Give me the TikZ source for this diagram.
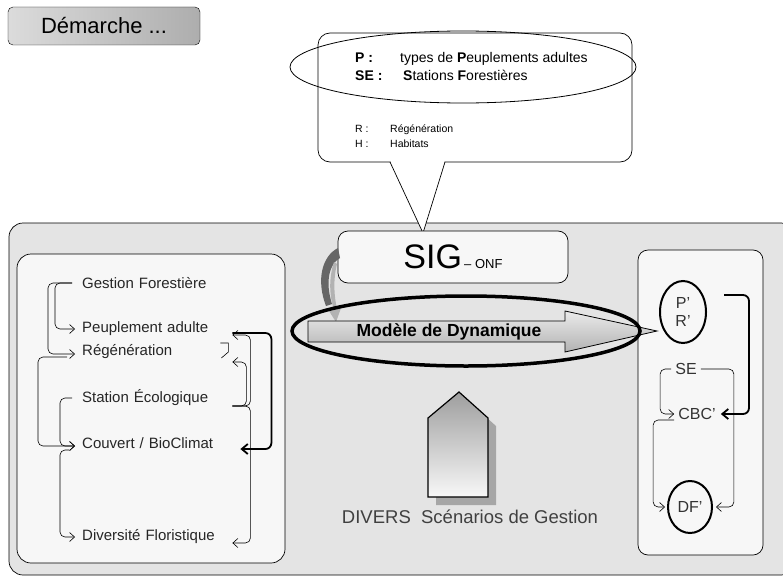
\documentclass[tikz,border=0pt]{standalone}
\usepackage{fontspec}
\setmainfont{Liberation Sans}
\usepackage{tikz}
\usetikzlibrary{arrows.meta, shapes.geometric}

\newcommand{\fsz}[1]{\fontsize{#1}{#1}\selectfont}
\definecolor{fondgris}{HTML}{E4E4E4}
\definecolor{fondclair}{HTML}{F7F7F7}

\begin{document}
\begin{tikzpicture}[x=1pt, y=-1pt,
    lbl/.style={anchor=west, inner sep=0pt, text width=150pt, align=left, font=\fsz{15}, text=black!85},
    lien/.style={line width=0.6pt, rounded corners=5pt, -{Straight Barb[length=5pt,width=9pt]}},
    lienfort/.style={line width=1.8pt, rounded corners=6pt, -{Straight Barb[length=6pt,width=10pt]}},
    anneau/.style={draw, ellipse, line width=2pt, inner sep=0pt, fill=fondclair},
    rtxt/.style={inner sep=0pt, font=\fsz{16}, text=black!80},
    bulle/.style={inner sep=0pt, anchor=base west}]

\useasboundingbox (0,0) rectangle (783,578);

% bouton
\node[draw, rounded corners=5pt, left color=black!14, right color=black!32, minimum width=192pt,
      minimum height=38pt, font=\fsz{22}] (dem) at (104,26) {Démarche ...};

% grands cadres
\draw[fill=fondgris, rounded corners=14pt, line width=0.7pt] (9,223) rectangle (795,575);
\draw[fill=fondclair, rounded corners=14pt, line width=0.7pt] (17,254) rectangle (285,563);
\draw[fill=fondclair, rounded corners=10pt, line width=0.7pt] (638,250) rectangle (763,555);

% bulle
\draw[fill=white, rounded corners=12pt, line width=0.7pt] (318,33) rectangle (632,162);
\fill[white] (390,160) -- (423,233) -- (445,160) -- cycle;
\draw[line width=0.7pt] (390,162) -- (423,233) -- (445,162);
\node[draw, ellipse, line width=0.8pt, minimum width=346pt, minimum height=72pt] (cell) at (463,67) {};

\node[bulle, font=\fsz{14}\bfseries] (lp) at (355,63) {P :};
\node[bulle, font=\fsz{14}] (tp) at (400,63) {types de \textbf{P}euplements adultes};
\node[bulle, font=\fsz{14}\bfseries] (lse) at (355,80) {SE :};
\node[bulle, font=\fsz{14}] (tse) at (403,80) {\textbf{S}tations \textbf{F}orestières};
\node[bulle, font=\fsz{10.5}] (lr) at (355,132) {R :};
\node[bulle, font=\fsz{10.5}] (tr) at (390,132) {Régénération};
\node[bulle, font=\fsz{10.5}] (lh) at (355,147) {H :};
\node[bulle, font=\fsz{10.5}] (th) at (390,147) {Habitats};

% SIG
\node[draw, fill=fondclair, rounded corners=10pt, line width=0.7pt, minimum width=230pt,
      minimum height=52pt] (sig) at (453,257) {\fsz{34}SIG{\fsz{13}\,– ONF}};

\fill[black!60] (338,248) .. controls (322,256) and (316,280) .. (326,306) -- (332,304)
      .. controls (325,282) and (329,264) .. (340,258) -- cycle;
\fill[black!30] (334,262) .. controls (328,280) and (330,298) .. (334,310) -- (329,311) -- (336,322)
      -- (341,308) -- (337,309) .. controls (334,296) and (333,280) .. (337,264) -- cycle;

% modele
\draw[line width=0.8pt, top color=black!8, bottom color=black!30] (308,321) -- (565,321) -- (565,311)
      -- (657,331) -- (565,352) -- (565,342) -- (308,342) -- cycle;
\node[draw, ellipse, line width=3.5pt, minimum width=348pt, minimum height=70pt] (mell) at (466,331) {};
\node[font=\fsz{17.5}\bfseries] (mdd) at (449,332) {Modèle de Dynamique};

% scenarios
\fill[black!35] (436,426) -- (467,400) -- (496,426) -- (496,505) -- (436,505) -- cycle;
\draw[line width=1.2pt, top color=black!38, bottom color=black!3] (428,418) -- (459,392) -- (488,418)
      -- (488,497) -- (428,497) -- cycle;
\node[font=\fsz{18.5}, text=black!75] (div) at (470,517) {DIVERS\ \ Scénarios de Gestion};

% panneau gauche
\node[lbl] (gf) at (82,283) {Gestion Forestière};
\node[lbl] (pa) at (82,329) {Peuplement adulte};
\node[lbl] (rg) at (82,352) {Régénération};
\node[lbl] (st) at (82,398) {Station Écologique};
\node[lbl] (cb) at (82,443) {Couvert / BioClimat};
\node[lbl] (df) at (82,537) {Diversité Floristique};

\draw[lien] ([xshift=-10pt]gf.west) -- ++(-17,0) |- ([xshift=-7pt]pa.west);
\draw[lien] ([xshift=-10pt]gf.west) -- ++(-24,0) |- ([xshift=-7pt,yshift=-2pt]rg.west);
\draw[lien] ([xshift=-15pt,yshift=-5pt]rg.west) -- ++(-29,0) |- ([xshift=-7pt,yshift=-3pt]cb.west);
\draw[lien] ([xshift=-10pt]st.west) -- ++(-12,0) |- ([xshift=-7pt,yshift=-3pt]cb.west);
\draw[lien] ([xshift=-13pt,yshift=-7pt]cb.west) -- ++(-9,0) |- ([xshift=-7pt]df.west);

\draw[lienfort] ([yshift=-4pt]pa.east) -- ++(39,0) |- ([xshift=8pt,yshift=-6pt]cb.east);
\draw[lien] ([yshift=-8pt]st.east) -- ++(18,0) |- ([yshift=-6pt]pa.east);
\draw[lien] ([yshift=-8pt]st.east) -- ++(14,0) |- ([yshift=-10pt]rg.east);
\draw[lien] ([yshift=-8pt]st.east) -- ++(18,0) |- ([yshift=-6pt]df.east);
\draw[line width=0.6pt] ([xshift=-12pt,yshift=-14pt]pa.east) -- ++(8,0) -- ++(0,9) -- ++(-7,6);

% panneau droit
\node[anneau, minimum width=46pt, minimum height=62pt, align=center, font=\fsz{16}, text=black!80]
      (pr) at (683,312) {P'\\[2pt]R'};
\node[rtxt] (se) at (686,369) {SE};
\node[rtxt] (cbc) at (697,414) {CBC'};
\node[anneau, minimum width=44pt, minimum height=52pt, font=\fsz{16}, text=black!80] (dfp) at (690,507) {DF'};

\draw[lienfort] ([xshift=17pt,yshift=17pt]pr.east) -- ++(25,0) |- ([xshift=5pt]cbc.east);
\draw[lien] ([xshift=-4pt]se.west) -- ++(-11,0) |- ([xshift=-4pt]cbc.west);
\draw[lien] ([xshift=4pt]se.east) -- ++(33,0) |- ([xshift=3pt]dfp.east);
\draw[lien] ([xshift=-4pt,yshift=-6pt]cbc.west) -- ++(-21,0) |- ([xshift=-2pt]dfp.west);

\end{tikzpicture}
\end{document}
